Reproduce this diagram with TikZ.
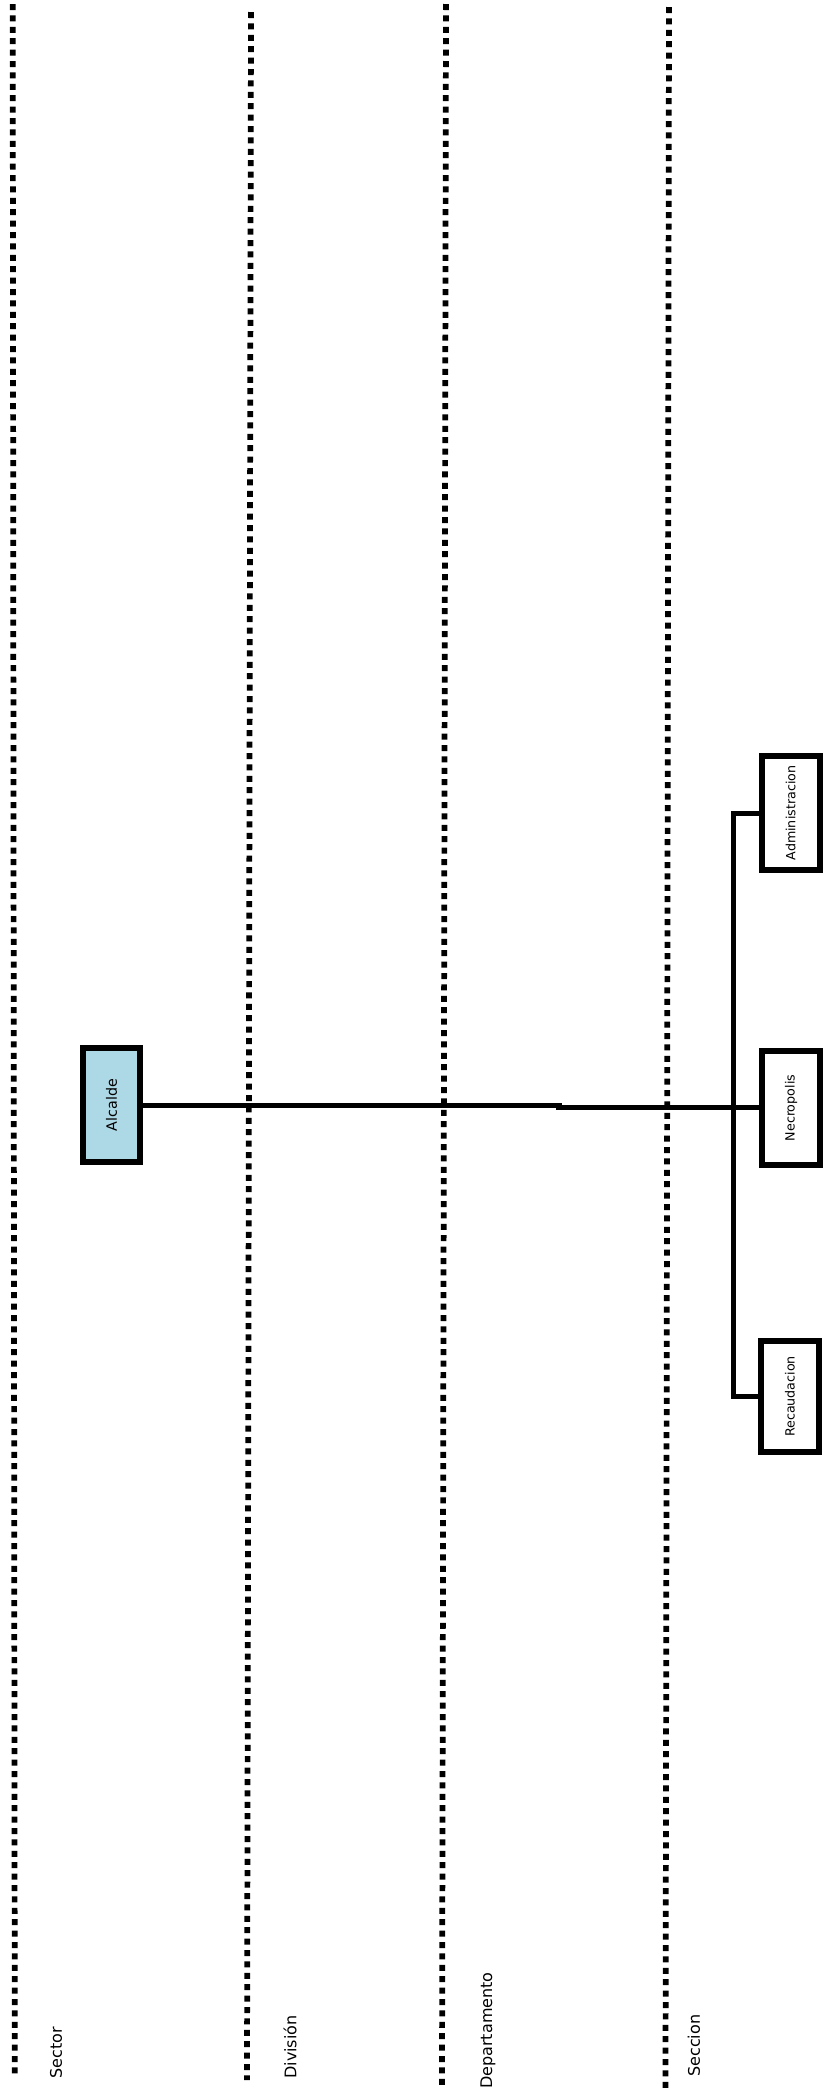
\documentclass[tikz,border=0pt]{standalone}
\usepackage{fontspec}
\setmainfont{DejaVu Sans}
\usepackage{graphicx}
\definecolor{boxblue}{HTML}{ADD8E6}
\begin{document}
\begin{tikzpicture}[x=0.75pt,y=-0.75pt,
  levelline/.style={line width=4.3pt,dash pattern=on 4.5pt off 4.05pt},
  levellabel/.style={anchor=west,rotate=90,inner sep=0pt,font=\fontsize{12}{14}\selectfont},
  orgbox/.style={draw,line width=4.8pt,inner sep=0pt,minimum width=43.5pt,minimum height=85.5pt,font=\fontsize{9.5}{11}\selectfont},
  link/.style={line width=3.75pt}]
\useasboundingbox (0,0) rectangle (827,2089);
% level lines
\coordinate (l1a) at (12.7,4);   \coordinate (l1b) at (14.8,2075);
\coordinate (l2a) at (251,12);   \coordinate (l2b) at (247,2080);
\coordinate (l3a) at (446,4);    \coordinate (l3b) at (442,2085);
\coordinate (l4a) at (669,7);    \coordinate (l4b) at (665.5,2089);
\draw[levelline] (l1a) -- (l1b);
\draw[levelline] (l2a) -- (l2b);
\draw[levelline] (l3a) -- (l3b);
\draw[levelline] (l4a) -- (l4b);
% level labels
\node[levellabel] (sector) at (56,2079) {Sector};
\node[levellabel] (division) at (290,2079) {División};
\node[levellabel] (depto) at (488,2089) {Departamento};
\node[levellabel] (seccion) at (694,2077) {Seccion};
% boxes
\node[orgbox,fill=boxblue,minimum width=42.75pt,font=\fontsize{10.7}{12}\selectfont] (alcalde) at (111.5,1105) {\rotatebox{90}{Alcalde}};
\node[orgbox] (admin) at (790.75,813) {\rotatebox{90}{Administracion}};
\node[orgbox] (necro) at (791,1108) {\rotatebox{90}{Necropolis}};
\node[orgbox,minimum height=83.25pt] (recau) at (790,1396.5) {\rotatebox{90}{Recaudacion}};
% connectors
\coordinate (j1) at (562,1105);
\coordinate (j2) at (556,1107);
\coordinate (bx) at (733,0);
\draw[link] (alcalde.east) -- (j1);
\draw[link] (j2) -- (j2 -| necro.west);
\draw[link] (admin.west) -- (admin.west -| bx) -- (recau.west -| bx) -- (recau.west);
\end{tikzpicture}
\end{document}
